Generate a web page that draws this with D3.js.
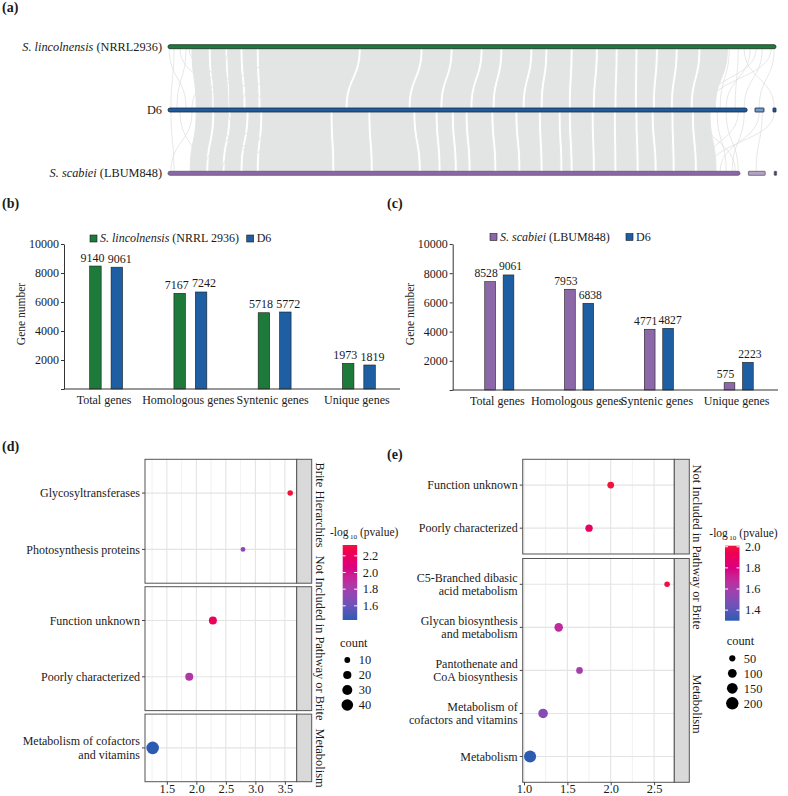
<!DOCTYPE html>
<html>
<head>
<meta charset="utf-8">
<script src="https://cdn.jsdelivr.net/npm/d3@7"></script>
<style>
  body { margin: 0; background: #fff; }
  text { font-family: "Liberation Serif", "Times New Roman", serif; fill: #1a1a1a; }
</style>
</head>
<body>
<svg id="fig" width="788" height="796"></svg>
<script>
// ---- (a) synteny data, positions in Mb along each drawn track ----
const genomeItalic = ['S. lincolnensis', '', 'S. scabiei']
const genomeRest = [' (NRRL2936)', 'D6', ' (LBUM848)']
const contigs = [
  [[0, 10.13]],
  [[0, 9.65], [9.78, 9.93], [10.08, 10.13]],
  [[0, 9.53], [9.67, 9.95], [10.10, 10.14]]
]
// syntenic blocks: [startA, endA, startB, endB]
const linksTop = [
  [0.40, 0.67, 0.47, 0.73], [0.72, 0.95, 0.77, 1.00], [1.00, 1.20, 1.03, 1.25],
  [1.25, 1.47, 1.30, 1.50], [1.52, 3.17, 1.55, 2.95], [3.22, 4.20, 3.00, 4.00],
  [4.25, 4.70, 4.05, 4.53], [4.75, 5.20, 4.58, 5.03], [5.25, 5.53, 5.08, 5.40],
  [5.58, 6.03, 5.45, 5.90], [6.08, 6.28, 5.95, 6.20], [6.33, 6.70, 6.25, 6.67],
  [6.75, 7.12, 6.72, 7.07], [7.17, 7.45, 7.12, 7.43], [7.50, 7.78, 7.48, 7.77],
  [7.83, 8.12, 7.82, 8.07], [8.17, 8.45, 8.12, 8.37], [8.50, 8.83, 8.42, 8.70],
  [8.88, 9.32, 8.75, 9.12]
]
const linksBottom = [
  [0.47, 0.73, 0.37, 0.63], [0.78, 1.00, 0.68, 0.90], [1.05, 1.30, 0.95, 1.20],
  [1.35, 1.53, 1.25, 1.47], [1.58, 2.70, 1.52, 2.73], [2.75, 3.33, 2.78, 3.37],
  [3.38, 4.08, 3.42, 4.17], [4.13, 4.45, 4.22, 4.50], [4.50, 4.72, 4.55, 4.77],
  [4.77, 4.95, 4.82, 5.00], [5.00, 5.38, 5.05, 5.43], [5.43, 5.78, 5.48, 5.83],
  [5.83, 6.17, 5.88, 6.20], [6.22, 6.50, 6.25, 6.53], [6.55, 6.67, 6.58, 6.70],
  [6.72, 7.05, 6.75, 7.07], [7.10, 7.42, 7.12, 7.43], [7.47, 7.78, 7.48, 7.80],
  [7.83, 8.05, 7.85, 8.10], [8.10, 8.38, 8.15, 8.40], [8.43, 8.72, 8.45, 8.77],
  [8.77, 9.03, 8.82, 9.13]
]
// small scattered links: [posA, posB]
const faintTop = [
  [0.02, 0.30], [0.10, 0.05], [0.20, 0.90], [0.30, 0.15], [0.35, 1.60], [1.00, 0.40],
  [1.70, 0.60], [2.20, 1.20], [9.35, 9.20], [9.50, 9.45], [9.70, 9.30], [9.90, 9.60],
  [10.10, 9.85], [9.60, 10.10], [10.05, 9.00], [9.80, 8.90]
]
const faintBottom = [
  [0.05, 0.10], [0.20, 0.50], [0.40, 0.05], [0.80, 1.40], [1.30, 0.60], [1.90, 0.90],
  [2.40, 1.30], [1.00, 2.20], [9.15, 9.30], [9.30, 9.50], [9.50, 8.90], [9.60, 9.40],
  [9.85, 9.20], [9.90, 9.80], [10.10, 9.00], [8.90, 9.45]
]

// ---- (b) (c) gene numbers ----
const geneCats = ['Total genes', 'Homologous genes', 'Syntenic genes', 'Unique genes']
const yTicksBar = [0, 2000, 4000, 6000, 8000, 10000]
const linDrawn = [8480, 6600, 5260, 1770]
const d6DrawnB = [8400, 6690, 5310, 1655]
const linLabel = [9140, 7167, 5718, 1973]
const d6LabelB = [9061, 7242, 5772, 1819]
const scaDrawn = [7420, 6900, 4160, 500]
const d6DrawnC = [7880, 5940, 4225, 1895]
const scaLabel = [8528, 7953, 4771, 575]
const d6LabelC = [9061, 6838, 4827, 2223]

// ---- (d) enrichment D6 vs S. lincolnensis ----
const dTerms = ['Glycosyltransferases', 'Photosynthesis proteins', 'Function unknown',
  'Poorly characterized', 'Metabolism of cofactors\nand vitamins']
const dGroups = ['Brite Hierarchies', 'Brite Hierarchies', 'Not Included in Pathway or Brite',
  'Not Included in Pathway or Brite', 'Metabolism']
const dRich = [3.59, 2.79, 2.28, 1.88, 1.26]
const dLogP = [2.33, 1.72, 2.22, 1.86, 1.43]
const dCount = [9, 7, 19, 19, 47]
const dXTicks = [1.5, 2.0, 2.5, 3.0, 3.5]
const dColorTicks = [1.6, 1.8, 2.0, 2.2]
const dSizeBreaks = [10, 20, 30, 40]

// ---- (e) enrichment D6 vs S. scabiei ----
const eTerms = ['Function unknown', 'Poorly characterized', 'C5-Branched dibasic\nacid metabolism',
  'Glycan biosynthesis\nand metabolism', 'Pantothenate and\nCoA biosynthesis',
  'Metabolism of\ncofactors and vitamins', 'Metabolism']
const eGroups = ['Not Included in Pathway or Brite', 'Not Included in Pathway or Brite',
  'Metabolism', 'Metabolism', 'Metabolism', 'Metabolism', 'Metabolism']
const eRich = [2.00, 1.75, 2.65, 1.40, 1.64, 1.22, 1.07]
const eLogP = [2.01, 1.90, 2.00, 1.68, 1.60, 1.50, 1.30]
const eCount = [60, 70, 40, 95, 58, 120, 190]
const eXTicks = [1.0, 1.5, 2.0, 2.5]
const eColorTicks = [1.4, 1.6, 1.8, 2.0]
const eSizeBreaks = [50, 100, 150, 200]

const svg = d3.select('#fig')

function panelTag(label, x, y) {
  svg.append('text').attr('x', x).attr('y', y)
    .style('font-size', '14px').style('font-weight', 'bold').text(label)
}

// ================= (a) =================
panelTag('(a)', 2, 12)
const trackY = [46.7, 110, 173.3]
const ax = d3.scaleLinear().domain([0, 10.13]).range([168, 776])
const trackFill = [['#1f7a3d'], ['#1f5c9e', '#6f9dcc', '#1f5c9e'], ['#8b67a7', '#b3a3c6', '#4c3d63']]
const trackStroke = ['#17301f', '#16263c', '#5d5a66']

function ribbon(d, y1, y2) {
  let a0 = ax(d[0]), a1 = ax(d[1]), b0 = ax(d[2]), b1 = ax(d[3]), ym = (y1 + y2) / 2
  return `M${a0},${y1}L${a1},${y1}C${a1},${ym} ${b1},${ym} ${b1},${y2}` +
    `L${b0},${y2}C${b0},${ym} ${a0},${ym} ${a0},${y1}Z`
}
function thread(d, y1, y2) {
  let a = ax(d[0]), b = ax(d[1]), ym = (y1 + y2) / 2
  return `M${a},${y1}C${a},${ym} ${b},${ym} ${b},${y2}`
}

let ga = svg.append('g')
ga.selectAll('path.ft').data(faintTop).enter().append('path')
  .attr('d', d => thread(d, trackY[0] + 2, trackY[1] - 2))
  .attr('fill', 'none').attr('stroke', '#dcdddd').attr('stroke-width', 0.7)
ga.selectAll('path.fb').data(faintBottom).enter().append('path')
  .attr('d', d => thread(d, trackY[1] + 2, trackY[2] - 2))
  .attr('fill', 'none').attr('stroke', '#dcdddd').attr('stroke-width', 0.7)
ga.selectAll('path.rt').data(linksTop).enter().append('path')
  .attr('d', d => ribbon(d, trackY[0] + 2, trackY[1] - 2))
  .attr('fill', '#e3e4e4').attr('stroke', '#e3e4e4').attr('stroke-width', 1)
ga.selectAll('path.rb').data(linksBottom).enter().append('path')
  .attr('d', d => ribbon(d, trackY[1] + 2, trackY[2] - 2))
  .attr('fill', '#e3e4e4').attr('stroke', '#e3e4e4').attr('stroke-width', 1)

contigs.forEach((segs, i) => {
  ga.selectAll(null).data(segs).enter().append('rect')
    .attr('x', d => ax(d[0])).attr('width', d => ax(d[1]) - ax(d[0]))
    .attr('y', trackY[i] - 2).attr('height', 4).attr('rx', (d, j) => j === 0 ? 2 : 0.5)
    .attr('fill', (d, j) => trackFill[i][j]).attr('stroke', trackStroke[i]).attr('stroke-width', 0.8)
  let t = ga.append('text').attr('x', 162).attr('y', trackY[i] + 4)
    .attr('text-anchor', 'end').style('font-size', '12.3px')
  if (genomeItalic[i]) t.append('tspan').style('font-style', 'italic').text(genomeItalic[i])
  t.append('tspan').text(genomeRest[i])
})

// ================= (b) (c) =================
function barPanel(o) {
  let g = svg.append('g')
  let y = d3.scaleLinear().domain([0, 10000]).range([o.y0, o.y1])
  let x = d3.scaleBand().domain(geneCats).range(o.band)
  let series = [
    {drawn: o.drawnA, label: o.labelA, color: o.colorA, off: -o.off, lab: o.labOff[0]},
    {drawn: o.drawnB, label: o.labelB, color: o.colorB, off: o.off, lab: o.labOff[1]}
  ]
  series.forEach(s => {
    let cx = i => x(geneCats[i]) + x.bandwidth() / 2 + s.off
    g.selectAll(null).data(s.drawn).enter().append('rect')
      .attr('x', (d, i) => cx(i) - o.bw / 2).attr('width', o.bw)
      .attr('y', d => y(d)).attr('height', d => y(0) - y(d))
      .attr('fill', s.color).attr('stroke', '#1d1d1d').attr('stroke-width', 0.6)
    g.selectAll(null).data(s.label).enter().append('text')
      .attr('x', (d, i) => cx(i) + s.lab).attr('y', (d, i) => y(s.drawn[i]) - 4.5)
      .attr('text-anchor', 'middle').style('font-size', o.labSize).text(d => d)
  })

  let yAxis = g.append('g').attr('transform', `translate(${o.axisX},0)`)
    .call(d3.axisLeft(y).tickValues(yTicksBar).tickSize(3).tickSizeOuter(0)
      .tickFormat(d => d === 0 ? '' : d))
  yAxis.select('.domain').attr('stroke', '#333')
  yAxis.selectAll('.tick line').attr('stroke', '#333')
  yAxis.selectAll('.tick text').attr('x', -5).style('font-size', '12px')
    .style('font-family', '"Liberation Serif", serif').attr('fill', '#1a1a1a')

  g.append('line').attr('x1', o.axisX).attr('x2', o.axisEnd)
    .attr('y1', y(0)).attr('y2', y(0)).attr('stroke', '#333')
  g.selectAll(null).data(geneCats).enter().append('text')
    .attr('x', d => x(d) + x.bandwidth() / 2 - 2).attr('y', y(0) + 15)
    .attr('text-anchor', 'middle').style('font-size', '12px').text(d => d)

  g.append('text').attr('transform', `translate(${o.titleX},${o.titleY}) rotate(-90)`)
    .attr('text-anchor', 'middle').style('font-size', '11.5px').text('Gene number')

  // legend
  g.append('rect').attr('x', o.legX).attr('y', o.legY - 7).attr('width', 7).attr('height', 7)
    .attr('fill', o.colorA).attr('stroke', '#1d1d1d').attr('stroke-width', 0.6)
  let lt = g.append('text').attr('x', o.legX + 10).attr('y', o.legY).style('font-size', '12px')
  lt.append('tspan').style('font-style', 'italic').text(o.nameItalic)
  lt.append('tspan').text(o.nameRest)
  g.append('rect').attr('x', o.legX2).attr('y', o.legY - 7).attr('width', 7).attr('height', 7)
    .attr('fill', o.colorB).attr('stroke', '#1d1d1d').attr('stroke-width', 0.6)
  g.append('text').attr('x', o.legX2 + 10).attr('y', o.legY).style('font-size', '12px').text('D6')
}

panelTag('(b)', 2, 208)
barPanel({
  y0: 389, y1: 244, band: [64, 401], axisX: 64, axisEnd: 400, off: 10.7, bw: 11.5,
  labOff: [-3, 3], labSize: '12px', drawnA: linDrawn, drawnB: d6DrawnB, labelA: linLabel, labelB: d6LabelB,
  colorA: '#1d7a3a', colorB: '#1e5fa3', titleX: 25, titleY: 314,
  legX: 90, legX2: 246.7, legY: 242, nameItalic: 'S. lincolnensis', nameRest: ' (NRRL 2936)'
})
panelTag('(c)', 387, 208)
barPanel({
  y0: 390, y1: 244, band: [459.4, 778.6], axisX: 452.7, axisEnd: 778, off: 9.2, bw: 10.7,
  labOff: [-4, 2], labSize: '11.6px', drawnA: scaDrawn, drawnB: d6DrawnC, labelA: scaLabel, labelB: d6LabelC,
  colorA: '#8c68a8', colorB: '#1e5fa3', titleX: 414, titleY: 314,
  legX: 490, legX2: 626, legY: 240.5, nameItalic: 'S. scabiei', nameRest: ' (LBUM848)'
})

// ================= (d) (e) =================
function dotPanel(o) {
  let g = svg.append('g')
  let x = d3.scaleLinear().domain(o.xDomain).range([o.left, o.right])
  let color = d3.scaleLinear().domain(o.cDomain).range(['#2b5cb2', '#f0143c'])
    .interpolate(d3.interpolateHcl)
  let size = d3.scaleSqrt().domain([0, o.sMax]).range([0, o.rMax])
  let groups = Array.from(new Set(o.groups))
  let units = groups.map(gr => o.groups.filter(v => v === gr).length + 0.2)
  let per = (o.bottom - o.top - o.gap * (groups.length - 1)) / d3.sum(units)
  let cursor = o.top
  let facets = groups.map((gr, i) => {
    let cats = o.terms.filter((t, j) => o.groups[j] === gr)
    let f = {name: gr, top: cursor, bottom: cursor + units[i] * per, cats: cats}
    f.y = d3.scalePoint().domain(cats).range([f.top, f.bottom]).padding(0.6)
    cursor = f.bottom + o.gap
    return f
  })
  let minor = d3.range(o.xTicks.length).map(i => o.xTicks[i] + 0.25)
    .concat([o.xTicks[0] - 0.25]).filter(v => v > o.xDomain[0] && v < o.xDomain[1])

  facets.forEach((f, fi) => {
    let fg = g.append('g')
    fg.append('rect').attr('x', o.left).attr('y', f.top).attr('width', o.right - o.left)
      .attr('height', f.bottom - f.top).attr('fill', '#fff')
    fg.selectAll(null).data(minor).enter().append('line')
      .attr('x1', d => x(d)).attr('x2', d => x(d)).attr('y1', f.top).attr('y2', f.bottom)
      .attr('stroke', '#eeeeee').attr('stroke-width', 0.8)
    fg.selectAll(null).data(o.xTicks).enter().append('line')
      .attr('x1', d => x(d)).attr('x2', d => x(d)).attr('y1', f.top).attr('y2', f.bottom)
      .attr('stroke', '#e4e4e4').attr('stroke-width', 1.1)
    fg.selectAll(null).data(f.cats).enter().append('line')
      .attr('x1', o.left).attr('x2', o.right).attr('y1', d => f.y(d)).attr('y2', d => f.y(d))
      .attr('stroke', '#e4e4e4').attr('stroke-width', 1.1)
    fg.append('rect').attr('x', o.left).attr('y', f.top).attr('width', o.right - o.left)
      .attr('height', f.bottom - f.top).attr('fill', 'none').attr('stroke', '#555').attr('stroke-width', 1)
    fg.append('rect').attr('x', o.right).attr('y', f.top).attr('width', o.stripW)
      .attr('height', f.bottom - f.top).attr('fill', '#d9d9d9').attr('stroke', '#555').attr('stroke-width', 1)
    fg.append('text').attr('transform', `translate(${o.stripX},${o.stripCenters[fi]}) rotate(90)`)
      .attr('text-anchor', 'middle').attr('dy', '0.35em').style('font-size', '12.4px').text(f.name)

    // y axis; two-line labels are drawn as separate text lines
    fg.selectAll(null).data(f.cats).enter().append('line')
      .attr('x1', o.left - 3).attr('x2', o.left).attr('y1', d => f.y(d)).attr('y2', d => f.y(d))
      .attr('stroke', '#444')
    f.cats.forEach(d => {
      let lines = d.split('\n')
      lines.forEach((s, k) => {
        let dy = lines.length === 1 ? 4.3 : (k === 0 ? -2.6 : 10.6)
        fg.append('text').attr('x', o.left - 5).attr('y', f.y(d) + dy)
          .attr('text-anchor', 'end').style('font-size', '12px').text(s)
      })
    })
  })

  // points
  let rows = o.terms.map((t, i) => ({term: t, group: o.groups[i], x: o.rich[i], c: o.logp[i], n: o.count[i]}))
  rows.sort((a, b) => b.n - a.n)
  g.selectAll('circle.pt').data(rows).enter().append('circle')
    .attr('cx', d => x(d.x))
    .attr('cy', d => facets.find(f => f.name === d.group).y(d.term))
    .attr('r', d => size(d.n)).attr('fill', d => color(d.c))

  // x axis on the last facet
  let last = facets[facets.length - 1]
  let xa = g.append('g').attr('transform', `translate(0,${last.bottom})`)
    .call(d3.axisBottom(x).tickValues(o.xTicks).tickSize(3).tickFormat(d3.format('.1f')))
  xa.select('.domain').remove()
  xa.selectAll('.tick line').attr('stroke', '#444')
  xa.selectAll('.tick text').attr('y', 11).attr('dy', 0).style('font-size', '12.4px')
    .style('font-family', '"Liberation Serif", serif').attr('fill', '#1a1a1a')

  // colour legend
  let L = o.legend
  let title = g.append('text').attr('x', L.titleX).attr('y', L.titleY).style('font-size', '11.5px')
  title.append('tspan').text('-log')
  title.append('tspan').attr('dy', 2.5).attr('dx', 1.5).style('font-size', '7px').text('10')
  title.append('tspan').attr('dy', -2.5).attr('dx', 3).text('(pvalue)')
  let cy = d3.scaleLinear().domain(o.cDomain).range([L.barBottom, L.barTop])
  let gradId = 'grad' + o.id
  let grad = svg.append('defs').append('linearGradient').attr('id', gradId)
    .attr('x1', 0).attr('x2', 0).attr('y1', 1).attr('y2', 0)
  d3.range(0, 1.0001, 0.1).forEach(p => grad.append('stop').attr('offset', p)
    .attr('stop-color', color(o.cDomain[0] + p * (o.cDomain[1] - o.cDomain[0]))))
  g.append('rect').attr('x', L.barX).attr('y', L.barTop).attr('width', 14.5)
    .attr('height', L.barBottom - L.barTop).attr('fill', `url(#${gradId})`)
  o.colorTicks.forEach(v => {
    g.append('line').attr('x1', L.barX).attr('x2', L.barX + 3).attr('y1', cy(v)).attr('y2', cy(v))
      .attr('stroke', '#fff')
    g.append('line').attr('x1', L.barX + 11.5).attr('x2', L.barX + 14.5).attr('y1', cy(v)).attr('y2', cy(v))
      .attr('stroke', '#fff')
    g.append('text').attr('x', L.barX + 20).attr('y', cy(v) + 4).style('font-size', '12.4px')
      .text(d3.format('.1f')(v))
  })

  // size legend
  g.append('text').attr('x', L.countX).attr('y', L.countY).style('font-size', '12.4px').text('count')
  o.sizeBreaks.forEach((v, i) => {
    g.append('circle').attr('cx', L.circX).attr('cy', L.circY + i * 15).attr('r', size(v)).attr('fill', '#000')
    g.append('text').attr('x', L.circX + 11.5).attr('y', L.circY + i * 15 + 4.3)
      .style('font-size', '12.4px').text(v)
  })
}

panelTag('(d)', 2, 451)
dotPanel({
  id: 'd', terms: dTerms, groups: dGroups, rich: dRich, logp: dLogP, count: dCount,
  left: 145, right: 296.7, stripW: 15, top: 459.3, bottom: 781.7, gap: 3.5,
  xDomain: [1.13, 3.70], xTicks: dXTicks, cDomain: [1.43, 2.33], colorTicks: dColorTicks,
  sMax: 40, rMax: 5.8, sizeBreaks: dSizeBreaks, stripX: 320, stripCenters: [505, 638, 758],
  legend: {titleX: 330, titleY: 536, barX: 342.7, barTop: 545, barBottom: 620,
    countX: 340, countY: 647, circX: 347.3, circY: 660}
})
panelTag('(e)', 387, 459)
dotPanel({
  id: 'e', terms: eTerms, groups: eGroups, rich: eRich, logp: eLogP, count: eCount,
  left: 522.7, right: 674.3, stripW: 15, top: 459.3, bottom: 782.3, gap: 4.5,
  xDomain: [0.985, 2.733], xTicks: eXTicks, cDomain: [1.30, 2.01], colorTicks: eColorTicks,
  sMax: 200, rMax: 6.2, sizeBreaks: eSizeBreaks, stripX: 697, stripCenters: [547, 704],
  legend: {titleX: 709.3, titleY: 537, barX: 725, barTop: 545.7, barBottom: 620.7,
    countX: 726.7, countY: 645, circX: 732.3, circY: 658.3}
})
</script>
</body>
</html>
